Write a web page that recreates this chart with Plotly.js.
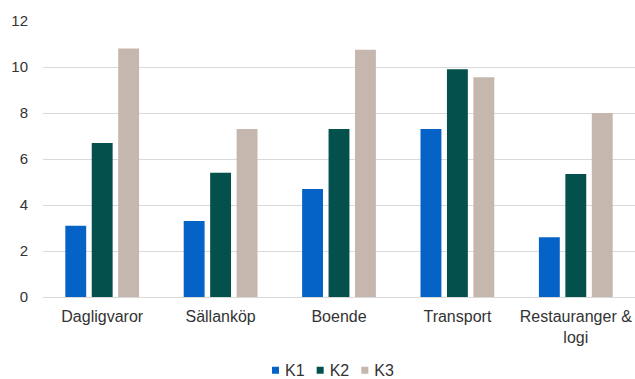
<!DOCTYPE html>
<html>
<head>
<meta charset="utf-8">
<script src="https://cdn.plot.ly/plotly-3.0.1.min.js"></script>
<style>html,body{margin:0;padding:0;background:#fff;}#chart{width:635px;height:379px;}</style>
</head>
<body>
<div id="chart"></div>
<script>
const categories = ["Dagligvaror", "Sällanköp", "Boende", "Transport", "Restauranger &<br>logi"];
const seriesNames = ["K1", "K2", "K3"];
const k1 = [3.1, 3.3, 4.7, 7.3, 2.6];
const k2 = [6.7, 5.4, 7.3, 9.9, 5.35];
const k3 = [10.8, 7.3, 10.75, 9.55, 8.0];
const yTicks = [0, 2, 4, 6, 8, 10, 12];

const colors = ["#0563c8", "#03504c", "#c5b7ae"];
const values = [k1, k2, k3];
const traces = seriesNames.map((n, i) => ({
  type: "bar", name: n, x: categories, y: values[i],
  marker: {color: colors[i]}, hoverinfo: "skip"
}));

const txt = "#333333";
const layout = {
  width: 635, height: 379,
  margin: {l: 43, r: 0, t: 21, b: 82},
  paper_bgcolor: "#fff", plot_bgcolor: "#fff",
  barmode: "group", bargap: 0.33, bargroupgap: 0.21,
  font: {family: "Liberation Sans, Arial, sans-serif", size: 16, color: txt},
  showlegend: true,
  legend: {orientation: "h", xref: "container", yref: "container", x: 0.525, xanchor: "center", y: 0.023, yanchor: "middle",
    font: {size: 16, color: txt}, itemwidth: 30, tracegroupgap: 0},
  xaxis: {type: "category", showgrid: false, showline: true, linecolor: "#d9d9d9", linewidth: 1,
    ticks: "", ticklabelstandoff: 5, tickfont: {size: 16, color: txt}, zeroline: false},
  yaxis: {range: [0, 12], tickvals: yTicks, ticktext: yTicks.map(String), showgrid: true, gridcolor: "#d9d9d9", gridwidth: 1,
    zeroline: false, showline: false, ticks: "", ticklabelstandoff: 14, tickfont: {size: 15, color: txt}}
};

function parseTranslate(str) {
  const m = /translate\(\s*([-\d.e]+)(?:[ ,]+([-\d.e]+))?\s*\)/.exec(str || '');
  return m ? [parseFloat(m[1]), m[2] ? parseFloat(m[2]) : 0] : [0, 0];
}

function compactLegend(gd) {
  try {
    const items = Array.from(gd.querySelectorAll('.legend .traces'));
    if (!items.length) return;
    const half = 3.5, symGap = 6, itemGap = 12, centerX = 333;
    items.forEach(item => {
      const text = item.querySelector('text.legendtext');
      if (!text) return;
      const tl = text.getBoundingClientRect().left;
      item.querySelectorAll('.legendpoints path').forEach(p => {
        p.setAttribute('d', 'M' + half + ',' + half + 'H-' + half + 'V-' + half + 'H' + half + 'Z');
        const r = p.getBoundingClientRect();
        const cx = (r.left + r.right) / 2;
        const dx = (tl - symGap - half) - cx;
        const t = parseTranslate(p.getAttribute('transform'));
        p.setAttribute('transform', 'translate(' + (t[0] + dx) + ',' + t[1] + ')');
      });
    });
    const info = items.map(item => {
      const p = item.querySelector('.legendpoints path');
      const t = item.querySelector('text.legendtext');
      const pl = p.getBoundingClientRect().left;
      const tr = t.getBoundingClientRect().right;
      return {pl: pl, w: tr - pl};
    });
    const total = info.reduce((s, d) => s + d.w, 0) + itemGap * (info.length - 1);
    let target = centerX - total / 2;
    items.forEach((item, i) => {
      const t = parseTranslate(item.getAttribute('transform'));
      const dx = target - info[i].pl;
      item.setAttribute('transform', 'translate(' + (t[0] + dx) + ',' + t[1] + ')');
      target += info[i].w + itemGap;
    });
  } catch (e) { /* keep default legend */ }
}

const gdEl = document.getElementById("chart");
Plotly.newPlot(gdEl, traces, layout, {displayModeBar: false, staticPlot: true}).then(gd => {
  compactLegend(gd);
  gd.on('plotly_afterplot', () => compactLegend(gd));
  setTimeout(() => compactLegend(gd), 0);
  requestAnimationFrame(() => compactLegend(gd));
});
</script>
</body>
</html>
